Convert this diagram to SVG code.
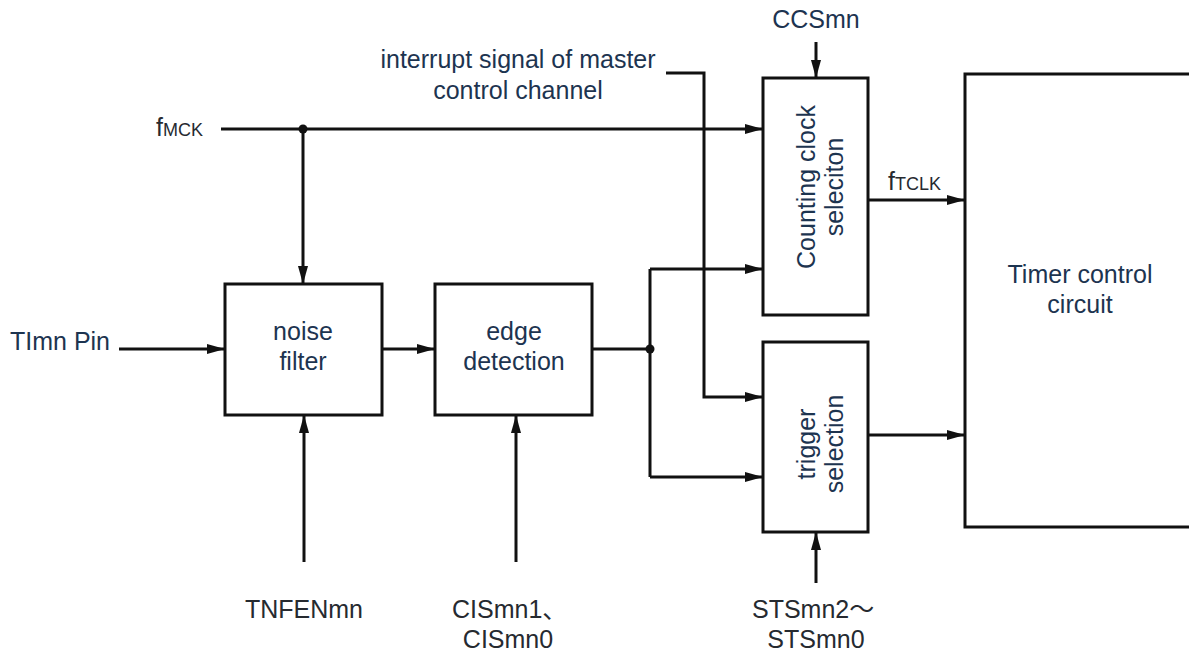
<svg xmlns="http://www.w3.org/2000/svg" width="1189" height="657" viewBox="0 0 1189 657">
<style>
.box{fill:#fff;stroke:#111;stroke-width:3}
.ln{fill:none;stroke:#111;stroke-width:3}
.arr{fill:none;stroke:#111;stroke-width:3;marker-end:url(#ah)}
.t{font-family:"Liberation Sans",Arial,"Noto Sans CJK SC",sans-serif;font-size:25px;fill:#1d3450}
.b{font-family:"Liberation Sans",Arial,"Noto Sans CJK SC",sans-serif;font-size:25px;fill:#262a30}
.m{text-anchor:middle}
.sub{font-size:18px}
</style>
<defs>
<marker id="ah" markerUnits="userSpaceOnUse" markerWidth="20" markerHeight="12" refX="18" refY="5" orient="auto">
<path d="M0,0 L18,5 L0,10 z" fill="#111"/>
</marker>
</defs>
<g id="connectors">
<path class="arr" d="M221,129 H763"/>
<path class="arr" d="M303,129 V284"/>
<path class="arr" d="M119,349 H225"/>
<path class="arr" d="M382,349 H435"/>
<path class="ln" d="M592,349 H650"/>
<path class="ln" d="M650,269 V477"/>
<path class="arr" d="M650,269 H763"/>
<path class="arr" d="M650,477 H763"/>
<path class="arr" d="M666,73 H704 V397 H763"/>
<path class="arr" d="M816,42 V78"/>
<path class="arr" d="M868,200 H965"/>
<path class="arr" d="M868,435 H965"/>
<path class="arr" d="M304,562 V415"/>
<path class="arr" d="M516,562 V415"/>
<path class="arr" d="M816,583 V532"/>
<circle cx="303" cy="129" r="4.5" fill="#111"/>
<circle cx="650" cy="349" r="4.5" fill="#111"/>
</g>
<g id="labels">
<text class="b" x="156" y="136">f<tspan class="sub">MCK</tspan></text>
<text class="b" x="888" y="190">f<tspan class="sub">TCLK</tspan></text>
<text class="t" x="10" y="350">TImn Pin</text>
<text class="t m" x="816" y="28">CCSmn</text>
<text class="t m" x="518" y="68">interrupt signal of master</text>
<text class="t m" x="518" y="99">control channel</text>
<text class="b m" x="304" y="618">TNFENmn</text>
<text class="b" x="452" y="618">CISmn1、</text>
<text class="b m" x="508" y="648">CISmn0</text>
<text class="b" x="752" y="618">STSmn2～</text>
<text class="b m" x="816" y="648">STSmn0</text>
</g>
<g id="noise-filter">
<rect class="box" x="225" y="284" width="157" height="131"/>
<text class="t m" x="303" y="340">noise</text>
<text class="t m" x="303" y="370">filter</text>
</g>
<g id="edge-detection">
<rect class="box" x="435" y="284" width="157" height="131"/>
<text class="t m" x="514" y="340">edge</text>
<text class="t m" x="514" y="370">detection</text>
</g>
<g id="counting-clock">
<rect class="box" x="763" y="78" width="105" height="237"/>
<g transform="translate(815,187) rotate(-90)">
<text class="t m" x="0" y="0">Counting clock</text>
<text class="t m" x="0" y="28">seleciton</text>
</g>
</g>
<g id="trigger-selection">
<rect class="box" x="763" y="342" width="105" height="190"/>
<g transform="translate(815,444) rotate(-90)">
<text class="t m" x="0" y="0">trigger</text>
<text class="t m" x="0" y="28">selection</text>
</g>
</g>
<g id="timer-control">
<rect class="box" x="965" y="74" width="260" height="453"/>
<text class="t m" x="1080" y="283">Timer control</text>
<text class="t m" x="1080" y="313">circuit</text>
</g>
</svg>
